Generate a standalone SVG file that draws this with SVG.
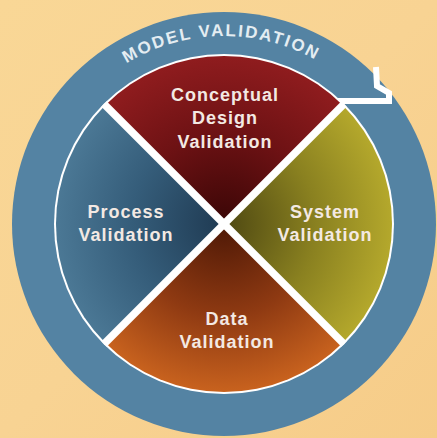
<svg xmlns="http://www.w3.org/2000/svg" width="437" height="438" viewBox="0 0 437 438">
  <defs>
    <linearGradient id="bg" x1="0" y1="0" x2="1" y2="1">
      <stop offset="0" stop-color="#f9d796"/>
      <stop offset="0.5" stop-color="#f8d393"/>
      <stop offset="1" stop-color="#f6cc88"/>
    </linearGradient>
    <radialGradient id="gRed" cx="224" cy="224" r="168" gradientUnits="userSpaceOnUse">
      <stop offset="0" stop-color="#3a0606"/>
      <stop offset="0.55" stop-color="#6e1214"/>
      <stop offset="1" stop-color="#8f1c1e"/>
    </radialGradient>
    <radialGradient id="gOlive" cx="224" cy="224" r="168" gradientUnits="userSpaceOnUse">
      <stop offset="0" stop-color="#4e4812"/>
      <stop offset="0.55" stop-color="#8a8120"/>
      <stop offset="1" stop-color="#b4a82c"/>
    </radialGradient>
    <radialGradient id="gOrange" cx="224" cy="224" r="168" gradientUnits="userSpaceOnUse">
      <stop offset="0" stop-color="#4e1806"/>
      <stop offset="0.55" stop-color="#8f3a12"/>
      <stop offset="1" stop-color="#c8621e"/>
    </radialGradient>
    <radialGradient id="gBlue" cx="224" cy="224" r="168" gradientUnits="userSpaceOnUse">
      <stop offset="0" stop-color="#1f3a52"/>
      <stop offset="0.55" stop-color="#355d7a"/>
      <stop offset="1" stop-color="#4b7895"/>
    </radialGradient>
    <path id="ringArc" d="M 36 224 A 188 188 0 0 1 412 224"/>
    <style>
      .lbl { font-family: "Liberation Sans", Arial, sans-serif; font-weight: bold; font-size: 18px; letter-spacing: 1px; fill: #f3e9e3; text-anchor: middle; }
      .ring-text { font-family: "Liberation Sans", Arial, sans-serif; font-weight: bold; font-size: 17px; letter-spacing: 2px; fill: #e4edf2; }
      .sep { stroke: #ffffff; stroke-width: 7.5; }
    </style>
  </defs>

  <!-- backdrop -->
  <rect x="0" y="0" width="437" height="438" fill="url(#bg)"/>

  <!-- outer blue band -->
  <g id="ring">
    <circle cx="224" cy="224" r="212" fill="#5483a3"/>
    <text class="ring-text"><textPath href="#ringArc" startOffset="292" text-anchor="middle">MODEL VALIDATION</textPath></text>
    <!-- arrow tip outline -->
    <polyline points="376,67 377,86 389,93 389,101 338,101" fill="none" stroke="#ffffff" stroke-width="6" stroke-linejoin="miter"/>
  </g>

  <!-- white rim around the quadrants -->
  <circle cx="224" cy="224" r="170" fill="#ffffff"/>

  <g id="conceptual">
    <path d="M224 224 L105.2 105.2 A168 168 0 0 1 342.8 105.2 Z" fill="url(#gRed)"/>
    <text class="lbl" x="225" y="101">Conceptual</text>
    <text class="lbl" x="225" y="124">Design</text>
    <text class="lbl" x="225" y="148">Validation</text>
  </g>
  <g id="system">
    <path d="M224 224 L342.8 105.2 A168 168 0 0 1 342.8 342.8 Z" fill="url(#gOlive)"/>
    <text class="lbl" x="325" y="218">System</text>
    <text class="lbl" x="325" y="241">Validation</text>
  </g>
  <g id="data">
    <path d="M224 224 L342.8 342.8 A168 168 0 0 1 105.2 342.8 Z" fill="url(#gOrange)"/>
    <text class="lbl" x="227" y="325">Data</text>
    <text class="lbl" x="227" y="348">Validation</text>
  </g>
  <g id="process">
    <path d="M224 224 L105.2 342.8 A168 168 0 0 1 105.2 105.2 Z" fill="url(#gBlue)"/>
    <text class="lbl" x="126" y="218">Process</text>
    <text class="lbl" x="126" y="241">Validation</text>
  </g>

  <!-- dividing cross -->
  <g id="connectors">
    <line class="sep" x1="104" y1="104" x2="344" y2="344"/>
    <line class="sep" x1="344" y1="104" x2="104" y2="344"/>
  </g>
</svg>
